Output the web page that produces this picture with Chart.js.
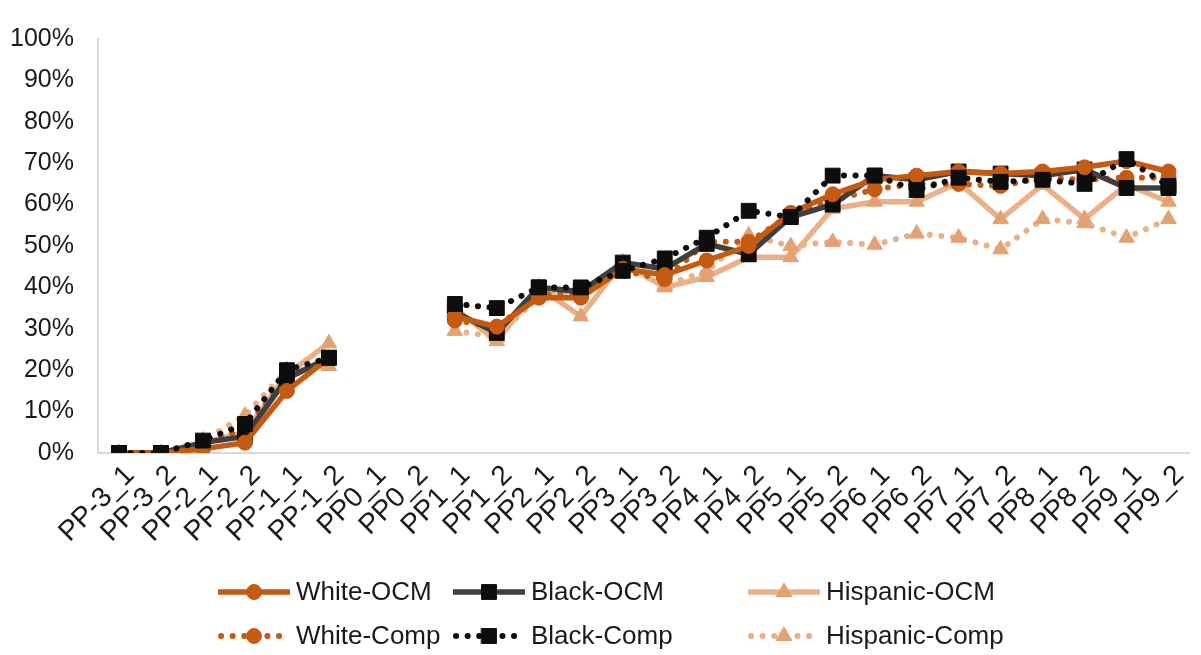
<!DOCTYPE html>
<html>
<head>
<meta charset="utf-8">
<script src="https://cdn.jsdelivr.net/npm/chart.js@4.4.1/dist/chart.umd.min.js"></script>
<style>
  html, body { margin: 0; padding: 0; background: #fff; }
  #wrap { width: 1201px; height: 655px; }
</style>
</head>
<body>
<div id="wrap"><canvas id="grafico"></canvas></div>
<script>
// periodos (eje x)
const periodos = ["PP-3_1", "PP-3_2", "PP-2_1", "PP-2_2", "PP-1_1", "PP-1_2", "PP0_1", "PP0_2",
  "PP1_1", "PP1_2", "PP2_1", "PP2_2", "PP3_1", "PP3_2", "PP4_1", "PP4_2", "PP5_1", "PP5_2",
  "PP6_1", "PP6_2", "PP7_1", "PP7_2", "PP8_1", "PP8_2", "PP9_1", "PP9_2"];

// valores en %, null = sin dato (PP0)
const whiteOCM = [0, 0, 1, 2.5, 15, 23, null, null, 33, 30.5, 37.5, 37.5, 44.5, 43, 46.5, 50, 58, 62.5, 66, 67, 68, 67.5, 68, 69, 70.5, 68];
const blackOCM = [0, 0, 2.5, 4, 18, 23, null, null, 34, 29, 40, 39, 46, 44.5, 50.5, 48, 57, 60, 67, 66, 68, 67.5, 67, 68.5, 64, 64];
const hispanicOCM = [0, 0, 2.5, 5, 19, 26.5, null, null, 35, 27, 40, 33, 46, 40, 42.5, 47.3, 47.3, 59, 60.7, 60.7, 65.3, 56.5, 64.8, 56.5, 64.8, 60.7];
const whiteComp = [0, 0, 2, 6, 18, 23, null, null, 32, 30.5, 38, 39, 44, 42, 51, 51, 57.5, 61, 63.7, 65, 65, 64.5, 66.5, 66, 66.5, 66.5];
const blackComp = [0, 0, 3, 7, 20, 23, null, null, 36, 35, 40, 40, 44, 47, 52, 58.5, 57, 67, 67, 63.5, 66.5, 65.5, 66, 65, 71, 64.5];
const hispanicComp = [0, 0, 3, 9, 20, 21, null, null, 29.5, 28, 38, 39, 45, 40.5, 44, 52.6, 50, 51, 50.3, 53, 52, 49.2, 56.5, 55.5, 52, 56.5];

const ticksY = [0, 10, 20, 30, 40, 50, 60, 70, 80, 90, 100];

const FUENTE = "'Liberation Sans', Arial, sans-serif";
const NARANJA = "#C55A11";
const GRIS = "#3F3F3F";
const NEGRO = "#0D0D0D";
const CLARO = "#EAB189";
const CLARO_MK = "#E3A273";

function serie(label, data, color, marcador, colorMk, radio, punteada, orden) {
  return {
    label: label,
    data: data,
    borderColor: color,
    borderWidth: punteada ? 6 : 5.5,
    borderDash: punteada ? [0.1, 11.5] : [],
    borderCapStyle: punteada ? "round" : "butt",
    pointStyle: marcador,
    pointRadius: radio,
    pointHoverRadius: radio,
    pointBackgroundColor: colorMk,
    pointBorderColor: colorMk,
    pointBorderWidth: 1,
    tension: 0,
    spanGaps: false,
    order: orden,
    fill: false
  };
}

const leyendaPlugin = {
  id: "leyenda",
  afterDraw(chart) {
    const ctx = chart.ctx;
    const colX = [218, 453, 748];
    const filaY = [592, 636];
    chart.data.datasets.forEach((ds, i) => {
      const x = colX[i % 3];
      const y = filaY[Math.floor(i / 3)];
      ctx.save();
      ctx.strokeStyle = ds.borderColor;
      ctx.lineWidth = ds.borderWidth;
      ctx.lineCap = ds.borderCapStyle;
      ctx.setLineDash(ds.borderDash);
      ctx.beginPath();
      ctx.moveTo(x + (ds.borderDash.length ? 3 : 0), y);
      ctx.lineTo(x + 72, y);
      ctx.stroke();
      ctx.setLineDash([]);
      ctx.fillStyle = ds.pointBackgroundColor;
      ctx.strokeStyle = ds.pointBorderColor;
      ctx.lineWidth = 1;
      Chart.helpers.drawPoint(ctx, { pointStyle: ds.pointStyle, radius: ds.pointRadius, borderWidth: 1, rotation: 0 }, x + 36, y);
      ctx.fillStyle = "#1a1a1a";
      ctx.font = "26px " + FUENTE;
      ctx.textBaseline = "middle";
      ctx.textAlign = "left";
      ctx.fillText(ds.label, x + 78, y + 1);
      ctx.restore();
    });
  }
};

const ctx = document.getElementById("grafico").getContext("2d");
new Chart(ctx, {
  type: "line",
  data: {
    labels: periodos,
    datasets: [
      serie("White-OCM", whiteOCM, NARANJA, "circle", NARANJA, 7.5, false, 2),
      serie("Black-OCM", blackOCM, GRIS, "rect", NEGRO, 10.5, false, 3),
      serie("Hispanic-OCM", hispanicOCM, CLARO, "triangle", CLARO_MK, 9, false, 6),
      serie("White-Comp", whiteComp, NARANJA, "circle", NARANJA, 7.5, true, 4),
      serie("Black-Comp", blackComp, NEGRO, "rect", NEGRO, 10.5, true, 1),
      serie("Hispanic-Comp", hispanicComp, CLARO, "triangle", CLARO_MK, 9, true, 5)
    ]
  },
  options: {
    responsive: true,
    maintainAspectRatio: false,
    animation: false,
    devicePixelRatio: 1,
    layout: { padding: { top: 20, bottom: 100, left: 0, right: 1 } },
    plugins: {
      legend: { display: false },
      tooltip: { enabled: false }
    },
    scales: {
      x: {
        offset: true,
        grid: { display: false, drawTicks: false },
        border: { display: true, color: "#D9D9D9", width: 2 },
        ticks: {
          autoSkip: false,
          minRotation: 45,
          maxRotation: 45,
          padding: 6,
          labelOffset: 11,
          color: "#1a1a1a",
          font: { family: FUENTE, size: 28 }
        },
        afterFit: (scale) => { scale.height = 102; }
      },
      y: {
        min: 0,
        max: 100,
        grid: { display: false, drawTicks: false },
        border: { display: true, color: "#D9D9D9", width: 2 },
        afterBuildTicks: (scale) => { scale.ticks = ticksY.map((v) => ({ value: v })); },
        ticks: {
          padding: 24,
          color: "#1a1a1a",
          font: { family: FUENTE, size: 25 },
          callback: (v) => v + "%"
        },
        afterFit: (scale) => { scale.width = 98; }
      }
    }
  },
  plugins: [leyendaPlugin]
});
</script>
</body>
</html>
